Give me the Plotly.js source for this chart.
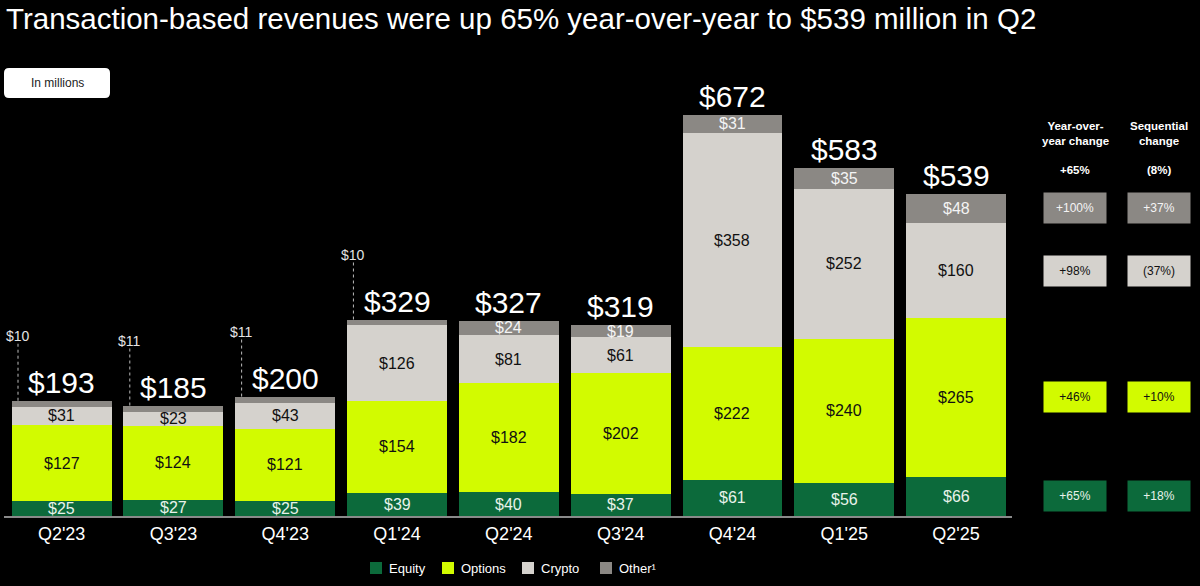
<!DOCTYPE html>
<html>
<head>
<meta charset="utf-8">
<script src="https://cdn.plot.ly/plotly-3.0.1.min.js"></script>
<style>
  html, body { margin: 0; padding: 0; background: #000; }
  #chart { width: 1200px; height: 586px; }
</style>
</head>
<body>
<div id="chart"></div>
<script>
const quarters = ["Q2'23", "Q3'23", "Q4'23", "Q1'24", "Q2'24", "Q3'24", "Q4'24", "Q1'25", "Q2'25"]
const equity = [25, 27, 25, 39, 40, 37, 61, 56, 66]
const options = [127, 124, 121, 154, 182, 202, 222, 240, 265]
const crypto = [31, 23, 43, 126, 81, 61, 358, 252, 160]
const other = [10, 11, 11, 10, 24, 19, 31, 35, 48]
const totals = [193, 185, 200, 329, 327, 319, 672, 583, 539]

// right-hand table, bottom segment first
const segNames = ["Equity", "Options", "Crypto", "Other¹"]
const yoyChange = ["+65%", "+46%", "+98%", "+100%"]
const seqChange = ["+18%", "+10%", "(37%)", "+37%"]
const totalYoy = "+65%"
const totalSeq = "(8%)"

const colors = ["#0c6a3b", "#d2fb00", "#d5d2cd", "#8b8884"]
const textColors = ["#e8f2ea", "#111111", "#111111", "#f4f4f4"]
const series = [equity, options, crypto, other]

const font = "Liberation Sans, Arial, sans-serif"

// pixel helpers for things outside the plot area
const plotL = 4, plotW = 1008, plotB = 516, plotH = 436
const px2paperX = (p) => (p - plotL) / plotW
const px2paperY = (p) => (plotB - p) / plotH

const data = series.map((vals, k) => ({
  type: "bar",
  name: segNames[k],
  x: quarters,
  y: vals,
  marker: { color: colors[k], line: { width: 0 } },
  hoverinfo: "skip",
}))

let annotations = []
let shapes = []

// segment labels
for (let i = 0; i < quarters.length; i++) {
  let base = 0
  for (let k = 0; k < series.length; k++) {
    const v = series[k][i]
    if (!(k == 3 && v < 15)) {
      annotations.push({
        x: quarters[i], y: base + v / 2, xref: "x", yref: "y",
        text: "$" + v, showarrow: false,
        font: { family: font, size: 16, color: textColors[k] },
      })
    }
    base += v
  }
  // totals
  annotations.push({
    x: quarters[i], y: totals[i], xref: "x", yref: "y", yanchor: "bottom",
    text: "$" + totals[i], showarrow: false,
    font: { family: font, size: 30, color: "#ffffff" },
  })
  // small other callouts
  if (other[i] < 15) {
    shapes.push({
      type: "line", xref: "x", yref: "y",
      x0: i - 0.39, x1: i - 0.39, y0: totals[i], y1: totals[i] + 96,
      line: { color: "#bbbbbb", width: 1, dash: "dot" },
    })
    annotations.push({
      x: i - 0.39, y: totals[i] + 108, xref: "x", yref: "y",
      text: "$" + other[i], showarrow: false,
      font: { family: font, size: 14, color: "#e4e4e4" },
    })
  }
}

// helper for text placed in page pixels
function pxNote(px, py, text, style, extra) {
  return Object.assign({
    x: px2paperX(px), y: px2paperY(py), xref: "paper", yref: "paper",
    xanchor: "center", yanchor: "middle",
    text: text, showarrow: false, font: style,
  }, extra || {})
}

// table headers
const colX = [1075, 1159]
const headStyle = { family: font, size: 11.5, color: "#ffffff" }
annotations.push(pxNote(colX[0], 133, "<b>Year-over-<br>year change</b>", headStyle))
annotations.push(pxNote(colX[1], 133, "<b>Sequential<br>change</b>", headStyle))
annotations.push(pxNote(colX[0], 170, "<b>" + totalYoy + "</b>", headStyle))
annotations.push(pxNote(colX[1], 170, "<b>" + totalSeq + "</b>", headStyle))

// table boxes, lined up with the Q2'25 segments
const last = quarters.length - 1
let base = 0
for (let k = 0; k < series.length; k++) {
  const mid = base + series[k][last] / 2
  base += series[k][last]
  const cells = [yoyChange[k], seqChange[k]]
  for (let c = 0; c < 2; c++) {
    annotations.push({
      x: px2paperX(colX[c]), y: mid, xref: "paper", yref: "y",
      xanchor: "center", yanchor: "middle",
      text: cells[c], showarrow: false,
      width: 62, height: 30, borderpad: 0,
      bgcolor: colors[k],
      font: { family: font, size: 12, color: textColors[k] },
    })
  }
}

// legend drawn by hand so the swatch/text spacing matches
const legendX = [370, 442, 522, 600]
for (let k = 0; k < segNames.length; k++) {
  shapes.push({
    type: "rect", xref: "paper", yref: "paper",
    x0: px2paperX(legendX[k]), x1: px2paperX(legendX[k] + 12),
    y0: px2paperY(574), y1: px2paperY(562),
    fillcolor: colors[k], line: { width: 0 },
  })
  annotations.push(pxNote(legendX[k] + 17, 568, segNames[k],
    { family: font, size: 13, color: "#ffffff" }, { xanchor: "left" }))
}

// "In millions" pill
function roundedRect(x0, x1, y0, y1, rx, ry) {
  return `M${x0 + rx},${y0} L${x1 - rx},${y0} Q${x1},${y0} ${x1},${y0 + ry} ` +
    `L${x1},${y1 - ry} Q${x1},${y1} ${x1 - rx},${y1} L${x0 + rx},${y1} ` +
    `Q${x0},${y1} ${x0},${y1 - ry} L${x0},${y0 + ry} Q${x0},${y0} ${x0 + rx},${y0} Z`
}
shapes.push({
  type: "path", xref: "paper", yref: "paper",
  path: roundedRect(px2paperX(4), px2paperX(110), px2paperY(98), px2paperY(68), 5 / plotW, 5 / plotH),
  fillcolor: "#ffffff", line: { width: 0 },
})
annotations.push(pxNote(57, 83, "In millions", { family: font, size: 12, color: "#222222" }))

const layout = {
  width: 1200,
  height: 586,
  paper_bgcolor: "#000000",
  plot_bgcolor: "#000000",
  margin: { l: plotL, r: 1200 - plotL - plotW, t: plotB - plotH, b: 586 - plotB, pad: 0 },
  barmode: "stack",
  bargap: 0.107,
  showlegend: false,
  title: {
    text: "Transaction-based revenues were up 65% year-over-year to $539 million in Q2",
    x: 0.005, xref: "container", xanchor: "left",
    y: 0.985, yref: "container", yanchor: "top",
    font: { family: font, size: 29.5, color: "#ffffff" },
  },
  xaxis: {
    type: "category",
    showline: true, linecolor: "#8a8a8a", linewidth: 1.5,
    showgrid: false, zeroline: false, ticks: "",
    ticklabelstandoff: 1,
    tickfont: { family: font, size: 18, color: "#ffffff" },
  },
  yaxis: {
    range: [0, 730],
    showgrid: false, zeroline: false, showticklabels: false, showline: false,
  },
  annotations: annotations,
  shapes: shapes,
}

Plotly.newPlot("chart", data, layout, { displayModeBar: false, staticPlot: true })
</script>
</body>
</html>
